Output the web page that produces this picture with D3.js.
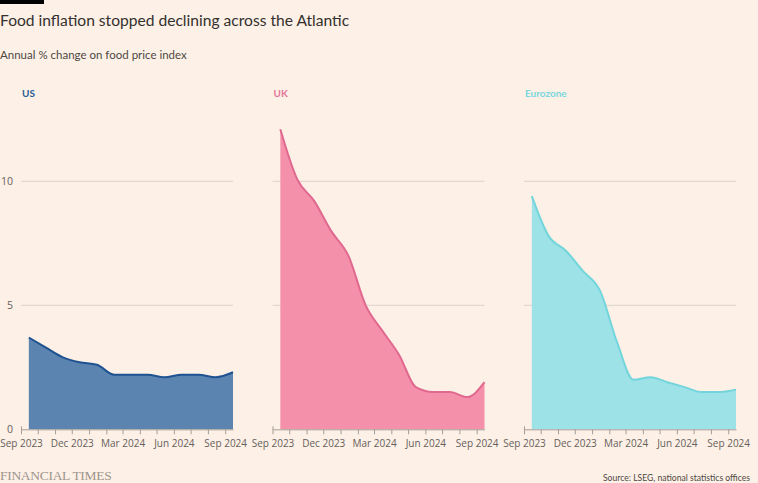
<!DOCTYPE html>
<html>
<head>
<meta charset="utf-8">
<script src="https://cdn.jsdelivr.net/npm/d3@7"></script>
<style>
  html, body { margin: 0; padding: 0; background: #fdf0e6; }
  svg { display: block; }
</style>
</head>
<body>
<svg id="chart" width="758" height="483"></svg>
<script>
const months = ["2023-09","2023-10","2023-11","2023-12","2024-01","2024-02","2024-03","2024-04","2024-05","2024-06","2024-07","2024-08","2024-09"];
const usValues = [3.7, 3.3, 2.9, 2.7, 2.6, 2.2, 2.2, 2.2, 2.1, 2.2, 2.2, 2.1, 2.3];
const ukValues = [12.1, 10.1, 9.2, 8.0, 7.0, 5.0, 4.0, 3.0, 1.7, 1.5, 1.5, 1.3, 1.9];
const ezValues = [9.4, 7.8, 7.2, 6.4, 5.6, 3.5, 2.0, 2.1, 1.9, 1.7, 1.5, 1.5, 1.6];
const panelNames = ["US", "UK", "Eurozone"];
const yTicks = [0, 5, 10];
const xTickLabels = ["Sep 2023", "Dec 2023", "Mar 2024", "Jun 2024", "Sep 2024"];

const series = [
  {name: panelNames[0], values: usValues, fill: "#5b84b1", line: "#1f5290", label: "#2a5d95"},
  {name: panelNames[1], values: ukValues, fill: "#f590ab", line: "#e0698f", label: "#e3769a"},
  {name: panelNames[2], values: ezValues, fill: "#9ce2e7", line: "#73d5dc", label: "#7ad8de"}
];

const parseMonth = d3.timeParse("%Y-%m");
const dates = months.map(m => d3.timeDay.offset(parseMonth(m), 14));

const sans = "Lato, 'Open Sans', sans-serif";
const svg = d3.select("#chart");
svg.append("rect").attr("width", 758).attr("height", 483).attr("fill", "#fdf0e6");
svg.append("rect").attr("x", 0).attr("y", 0).attr("width", 44).attr("height", 4).attr("fill", "#000");

svg.append("text").attr("x", 0).attr("y", 26).style("font-family", sans)
  .style("font-size", "15.6px").attr("fill", "#33302e").text("Food inflation stopped declining across the Atlantic");
svg.append("text").attr("x", 0).attr("y", 59).style("font-family", sans)
  .style("font-size", "11.5px").attr("fill", "#4d4845").text("Annual % change on food price index");

const y = d3.scaleLinear().domain([0, 12]).range([429.3, 131.7]);
const panelX = [21, 272.5, 524];
const panelW = 212;

const x = d3.scaleTime()
  .domain([new Date(2023, 8, 1), new Date(2024, 8, 15)])
  .range([0, panelW]);

series.forEach((s, i) => {
  const g = svg.append("g").attr("transform", `translate(${panelX[i]},0)`);

  g.append("text").attr("x", 1).attr("y", 97).style("font-family", sans)
    .style("font-size", "10px").style("font-weight", "bold").attr("fill", s.label).text(s.name);

  g.selectAll(".grid").data(yTicks.filter(t => t > 0)).enter().append("line")
    .attr("x1", 0).attr("x2", panelW)
    .attr("y1", d => y(d)).attr("y2", d => y(d))
    .attr("stroke", "#dcd2ca").attr("stroke-width", 1);

  if (i === 0) {
    g.selectAll(".ylab").data(yTicks).enter().append("text")
      .attr("x", -8).attr("y", d => y(d) + 4)
      .attr("text-anchor", "end").style("font-family", "'Open Sans', sans-serif")
      .style("font-size", "10.5px").attr("fill", "#66605c")
      .text(d => d);
  }

  const data = dates.map((d, k) => ({date: d, value: s.values[k]}));
  const area = d3.area().x(d => x(d.date)).y0(y(0)).y1(d => y(d.value)).curve(d3.curveMonotoneX);
  const line = d3.line().x(d => x(d.date)).y(d => y(d.value)).curve(d3.curveMonotoneX);

  g.append("path").datum(data).attr("d", area).attr("fill", s.fill);
  g.append("path").datum(data).attr("d", line).attr("fill", "none")
    .attr("stroke", s.line).attr("stroke-width", 2);

  const axis = d3.axisBottom(x)
    .ticks(d3.timeMonth.every(1))
    .tickSize(5)
    .tickFormat(d => d.getMonth() % 3 === 2 ? xTickLabels[Math.round(((d.getFullYear() - 2023) * 12 + d.getMonth() - 8) / 3)] : "");
  const ax = g.append("g").attr("transform", `translate(0,${y(0)})`).call(axis);
  ax.select(".domain").attr("stroke", "#a59e98").attr("d", `M0.5,-3V0.5H${panelW}.5`);
  ax.selectAll(".tick line").attr("stroke", "#a59e98");
  ax.selectAll(".tick text").style("font-size", "10px").attr("fill", "#66605c")
    .style("font-family", "'Open Sans', sans-serif").attr("dy", "0.95em");
});

svg.append("text").attr("x", 0).attr("y", 480)
  .style("font-family", "'Liberation Serif', 'DejaVu Serif', serif").style("font-size", "13.5px")
  .attr("fill", "#9e958d").attr("letter-spacing", -0.3).text("FINANCIAL TIMES");
svg.append("text").attr("x", 750).attr("y", 481).attr("text-anchor", "end")
  .style("font-family", sans).style("font-size", "8.6px").attr("fill", "#4d4845")
  .text("Source: LSEG, national statistics offices");
</script>
</body>
</html>
